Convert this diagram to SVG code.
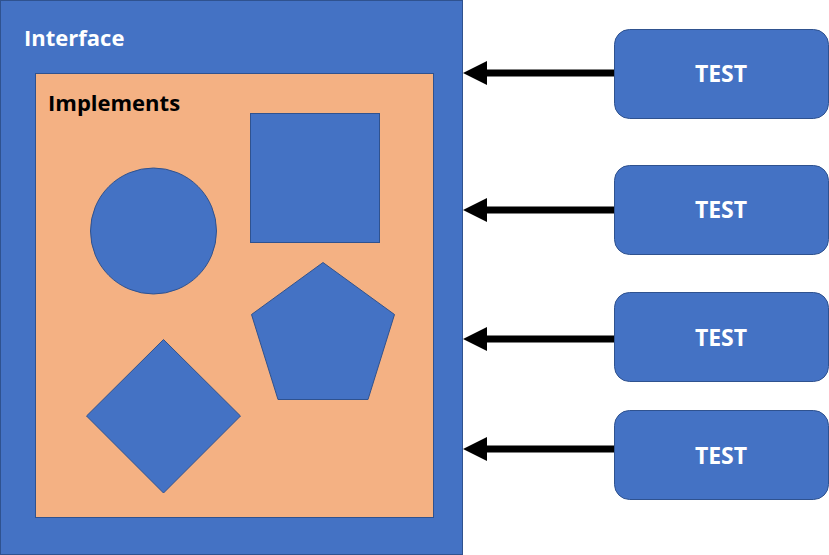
<svg xmlns="http://www.w3.org/2000/svg" width="829" height="555" viewBox="0 0 829 555">
<defs>
<style>
.sh{fill:#4472C4;stroke:#2F528F;stroke-width:1}
.lbl{font-family:"Open Sans","Noto Sans","DejaVu Sans",sans-serif;font-weight:bold;font-size:22px}
.t{font-size:23px}
.w{fill:#FFFFFF}
.k{fill:#000000}
.ln{stroke:#000;stroke-width:7;fill:none}
.hd{fill:#000}
</style>
</defs>
<g id="interface">
<rect class="sh" x="0.5" y="0.5" width="462" height="554"/>
<text class="lbl w" x="24" y="46">Interface</text>
</g>
<g id="implements">
<rect x="35.5" y="73.5" width="398" height="444" fill="#F4B183" stroke="#2F528F" stroke-width="1"/>
<text class="lbl k" x="48" y="111">Implements</text>
</g>
<g id="circle"><circle class="sh" cx="153.5" cy="231" r="63"/></g>
<g id="square"><rect class="sh" x="250.5" y="113.5" width="129" height="129"/></g>
<g id="pentagon"><polygon class="sh" points="323,262.5 394.5,314.5 368,399.5 278,399.5 251.5,314.5"/></g>
<g id="diamond"><polygon class="sh" points="163.5,339.5 240.5,416 163.5,493 86.5,416"/></g>
<g id="test1"><rect class="sh" x="614.5" y="29.5" width="214" height="89" rx="15"/><text class="lbl t w" x="721" y="82" text-anchor="middle">TEST</text></g>
<g id="test2"><rect class="sh" x="614.5" y="165.5" width="214" height="89" rx="15"/><text class="lbl t w" x="721" y="218" text-anchor="middle">TEST</text></g>
<g id="test3"><rect class="sh" x="614.5" y="292.5" width="214" height="89" rx="15"/><text class="lbl t w" x="721" y="346" text-anchor="middle">TEST</text></g>
<g id="test4"><rect class="sh" x="614.5" y="410.5" width="214" height="89" rx="15"/><text class="lbl t w" x="721" y="464" text-anchor="middle">TEST</text></g>
<g id="connectors">
<line class="ln" x1="614" y1="73" x2="486" y2="73"/>
<path class="hd" d="M463,73 L487,61 L487,85 Z"/>
<line class="ln" x1="614" y1="210" x2="486" y2="210"/>
<path class="hd" d="M463,210 L487,198 L487,222 Z"/>
<line class="ln" x1="614" y1="339" x2="486" y2="339"/>
<path class="hd" d="M463,339 L487,327 L487,351 Z"/>
<line class="ln" x1="614" y1="449" x2="486" y2="449"/>
<path class="hd" d="M463,449 L487,437 L487,461 Z"/>
</g>
</svg>
